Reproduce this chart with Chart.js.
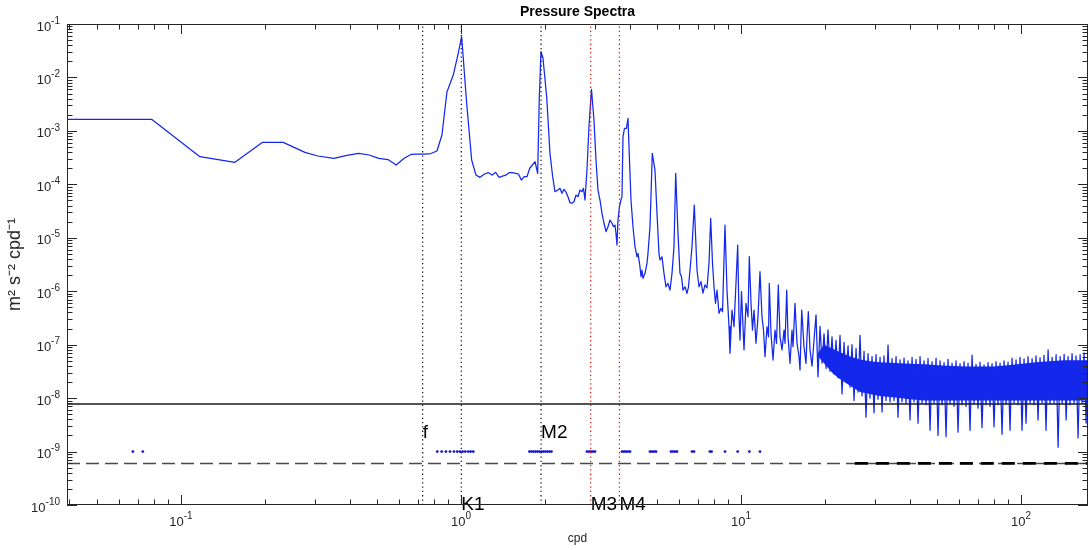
<!DOCTYPE html>
<html><head><meta charset="utf-8">
<script src="https://cdn.jsdelivr.net/npm/chart.js@4"></script>
<style>html,body{margin:0;padding:0;background:#fff}#wrap{width:1089px;height:550px}</style>
</head><body><div id="wrap"><canvas id="c" width="1089" height="550"></canvas></div>
<script>
// ---------- data ----------
const xRange = [0.0392, 173.4];
const yRange = [1e-10, 1e-1];
const xTickValues = [0.1, 1, 10, 100];
const xTickExps = ['-1', '0', '1', '2'];
const yTickValues = [1e-10, 1e-9, 1e-8, 1e-7, 1e-6, 1e-5, 1e-4, 1e-3, 1e-2, 1e-1];
const yTickExps = ['-10', '-9', '-8', '-7', '-6', '-5', '-4', '-3', '-2', '-1'];
const tickBase = '10';

const mainFreq = [0.0392,0.0786,0.1169,0.1559,0.1957,0.2319,0.2773,0.3085,0.3518,0.3917,0.4309,0.4700,0.5090,0.5486,0.5872,0.6268,0.6655,0.7050,0.7436,0.7813,0.8209,0.8553,0.8913,0.9387,0.9780,1.0058,1.0480,1.0920,1.1313,1.1692,1.2140,1.2526,1.2924,1.3302,1.3690,1.4078,1.4477,1.4863,1.5259,1.5653,1.6045,1.6432,1.6829,1.7206,1.7607,1.7989,1.8392,1.8790,1.9038,1.9307,1.9627,2.0234,2.0790,2.1257,2.1663,2.2204,2.2572,2.2946,2.3327,2.3714,2.4108,2.4508,2.4915,2.5329,2.5750,2.6177,2.6607,2.7049,2.7384,2.7724,2.8184,2.8652,2.9248,2.9854,3.0350,3.0853,3.1366,3.1886,3.2416,3.2954,3.3497,3.4054,3.4619,3.5049,3.5481,3.5774,3.6069,3.6367,3.6818,3.7276,3.7584,3.7894,3.8365,3.9002,3.9486,3.9976,4.0472,4.1144,4.1827,4.2521,4.2872,4.3584,4.3943,4.4306,4.4668,4.5409,4.6163,4.6544,4.7315,4.7786,4.8219,4.9302,5.0119,5.0950,5.1370,5.2223,5.3088,5.3969,5.4864,5.5775,5.6700,5.7640,5.8453,5.9566,6.0555,6.1306,6.2067,6.3096,6.4143,6.4938,6.5744,6.6834,6.8110,6.9641,7.0795,7.1969,7.3163,7.4376,7.5609,7.6863,7.7946,7.9108,8.0091,8.1084,8.2091,8.3452,8.4834,8.5888,8.7672,8.9125,9.0603,9.1350,9.2864,9.4406,9.7325,9.8369,9.9181,10.041,10.166,10.250,10.420,10.593,10.707,10.858,10.992,11.129,11.311,11.500,11.690,11.885,12.033,12.182,12.384,12.537,12.620,12.798,13.011,13.227,13.391,13.590,13.782,14.011,14.243,14.361,14.563,14.720,14.962,15.211,15.336,15.590,15.849,16.112,16.245,16.474,16.788,17.067,17.208,17.393,17.638,17.932,18.229,18.530,18.836];
const mainPow = [1.65e-3,1.65e-3,3.29e-4,2.58e-4,6.11e-4,6.11e-4,3.97e-4,3.39e-4,3.07e-4,3.49e-4,3.81e-4,3.54e-4,3.07e-4,2.91e-4,2.30e-4,3.07e-4,3.65e-4,3.69e-4,3.69e-4,3.77e-4,4.20e-4,8.37e-4,5.34e-3,1.11e-2,2.83e-2,5.78e-2,3.32e-3,2.85e-4,1.49e-4,1.35e-4,1.56e-4,1.65e-4,1.49e-4,1.68e-4,1.35e-4,1.43e-4,1.49e-4,1.65e-4,1.65e-4,1.61e-4,1.56e-4,1.20e-4,1.39e-4,1.39e-4,2.0e-4,2.30e-4,2.65e-4,1.61e-4,3.78e-3,3.03e-2,2.31e-2,4.36e-3,3.81e-4,1.39e-4,7.28e-5,7.83e-5,8.42e-5,6.79e-5,8.07e-5,7.18e-5,5.87e-5,4.53e-5,4.41e-5,4.73e-5,6.31e-5,5.87e-5,7.83e-5,7.28e-5,8.42e-5,5.09e-5,1.85e-4,1.20e-3,6.0e-3,1.60e-3,2.85e-4,7.83e-5,5.09e-5,2.87e-5,1.87e-5,1.30e-5,1.61e-5,2.15e-5,1.87e-5,1.61e-5,1.73e-5,1.21e-5,7.32e-6,2.15e-5,3.81e-5,5.09e-5,5.87e-5,7.78e-4,1.12e-3,1.12e-3,1.72e-3,2.85e-4,5.09e-5,1.61e-5,6.80e-6,4.42e-6,5.12e-6,2.87e-6,1.87e-6,2.49e-6,1.74e-6,2.16e-6,3.33e-6,5.12e-6,1.61e-5,7.83e-5,3.81e-4,1.85e-4,2.87e-5,5.12e-6,3.84e-6,4.42e-6,2.16e-6,1.21e-6,1.40e-6,1.05e-6,2.16e-6,6.80e-6,1.61e-4,1.21e-5,2.16e-6,1.87e-6,1.05e-6,1.21e-6,9.14e-7,1.21e-6,2.49e-6,6.80e-6,4.10e-5,2.49e-6,1.21e-6,1.51e-6,9.25e-7,1.31e-6,1.15e-6,3.33e-6,2.31e-5,3.33e-6,1.21e-6,5.94e-7,1.05e-6,3.86e-7,4.79e-7,4.13e-7,1.73e-5,1.05e-6,2.17e-7,6.88e-8,4.45e-7,2.17e-7,7.32e-6,3.33e-7,1.22e-7,9.79e-7,2.17e-7,7.96e-8,5.94e-7,3.33e-7,4.42e-6,5.94e-7,1.88e-7,4.45e-7,1.06e-7,3.33e-7,2.32e-6,3.33e-7,1.88e-7,5.95e-8,2.17e-7,1.41e-7,1.40e-6,1.63e-7,5.16e-8,1.88e-7,1.06e-7,1.31e-6,1.41e-7,7.96e-8,1.88e-7,1.06e-7,1.05e-6,1.41e-7,4.48e-8,1.88e-7,9.15e-8,5.94e-7,1.06e-7,5.95e-8,3.35e-8,4.45e-7,9.15e-8,4.48e-8,1.41e-7,4.13e-7,7.96e-8,3.98e-8,1.22e-7,3.62e-7,2.51e-8];

const noiseFreq = [19.15,19.47,19.79,20.12,20.45,20.79,21.13,21.49,21.84,22.21,22.57,22.95,23.33,23.71,24.11,24.51,24.91,25.33,25.75,26.17,26.61,27.05,27.50,27.95,28.42,28.89,29.37,29.85,30.35,30.85,31.37,31.89,32.41,32.95,33.50,34.05,34.62,35.19,35.78,36.37,36.97,37.58,38.21,38.84,39.49,40.14,40.81,41.48,42.17,42.87,43.58,44.30,45.04,45.78,46.54,47.32,48.10,48.90,49.71,50.53,51.37,52.22,53.09,53.97,54.86,55.77,56.70,57.64,58.59,59.57,60.55,61.56,62.58,63.61,64.67,65.74,66.83,67.94,69.06,70.21,71.37,72.55,73.76,74.99,76.23,77.49,78.78,80.08,81.41,82.76,84.14,85.53,86.95,88.39,89.85,91.34,92.86,94.41,95.97,97.56,99.18,100.8,102.5,104.2,105.9,107.7,109.5,111.3,113.1,115.0,116.9,118.9,120.8,122.8,124.9,126.9,129.1,131.2,133.4,135.6,137.9,140.2,142.5,144.9,147.2,149.6,152.1,154.6,157.2,159.8,162.5,165.1,167.9,170.7,173.5];
const noisePow = [2.2e-7,4.5e-8,1.6e-7,3.6e-8,1.9e-7,3.2e-8,1.4e-7,2.8e-8,1.2e-7,2.4e-8,
1.5e-7,1.2e-8,1.1e-7,2.0e-8,9.5e-8,1.6e-8,1.0e-7,9.0e-9,8.5e-8,1.3e-8,
1.5e-7,1.1e-8,7.5e-8,4.4e-9,6.8e-8,1.0e-8,6.0e-8,5.3e-9,6.5e-8,9.5e-9,
5.8e-8,5.5e-9,6.2e-8,9.0e-9,9.8e-8,8.5e-9,5.5e-8,9.0e-9,6.0e-8,4.4e-9,
5.2e-8,8.5e-9,5.6e-8,8.0e-9,5.0e-8,3.9e-9,5.8e-8,8.5e-9,5.3e-8,3.4e-9,
6.0e-8,8.0e-9,5.0e-8,7.5e-9,5.5e-8,2.5e-9,4.8e-8,8.0e-9,5.6e-8,2.0e-9,
5.0e-8,7.5e-9,4.6e-8,1.9e-9,5.3e-8,7.8e-9,4.5e-8,7.0e-9,5.0e-8,2.3e-9,
4.4e-8,7.5e-9,4.8e-8,7.0e-9,4.5e-8,2.5e-9,6.4e-8,7.8e-9,4.3e-8,6.5e-9,
4.7e-8,2.8e-9,4.2e-8,7.5e-9,4.6e-8,7.0e-9,4.4e-8,2.9e-9,4.8e-8,7.5e-9,
4.5e-8,2.1e-9,5.0e-8,7.8e-9,4.7e-8,2.5e-9,5.6e-8,8.0e-9,5.2e-8,7.5e-9,
5.8e-8,2.5e-9,5.4e-8,3.4e-9,6.0e-8,8.0e-9,5.5e-8,7.5e-9,6.2e-8,3.9e-9,
5.7e-8,8.0e-9,6.3e-8,2.5e-9,8.0e-8,7.8e-9,5.8e-8,8.0e-9,6.5e-8,1.2e-9,
6.0e-8,8.0e-9,6.6e-8,3.9e-9,6.0e-8,7.5e-9,6.8e-8,8.0e-9,6.2e-8,1.8e-9,
6.5e-8,8.0e-9,7.0e-8,3.4e-9,6.3e-8];

// dense core of the high-frequency noise band
const bandFreq = [18.84,19.79,21.13,22.21,24.51,26.61,28.89,31.37,34.05,36.97,40.14,45.04,50.53,56.70,63.61,71.37,80.08,89.85,100.8,113.1,126.9,142.5,159.8,173.5];
const bandHigh = [7.0e-8,1.0e-7,8.5e-8,7.5e-8,6.0e-8,5.3e-8,4.9e-8,4.7e-8,4.6e-8,4.5e-8,4.4e-8,4.3e-8,4.1e-8,4.0e-8,3.9e-8,3.9e-8,3.9e-8,4.1e-8,4.4e-8,4.7e-8,4.9e-8,5.1e-8,5.1e-8,5.1e-8];
const bandLow = [6.0e-8,4.5e-8,3.0e-8,2.4e-8,1.7e-8,1.3e-8,1.2e-8,1.1e-8,1.05e-8,1.0e-8,9.5e-9,9e-9,9e-9,9e-9,9e-9,9e-9,9e-9,9e-9,9e-9,9e-9,9e-9,9e-9,9e-9,9e-9];

// significant-frequency markers
const dotFreq = [0.0674,0.0731,0.8231,0.8534,0.8839,0.9136,0.9441,0.9700,0.9918,1.0141,1.0360,1.0619,1.0830,1.1064,1.7564,1.7856,1.8152,1.8453,1.8759,1.9070,1.9386,1.9708,2.0034,2.0366,2.0704,2.1047,2.8184,2.8652,2.9128,2.9612,3.0103,3.7584,3.8207,3.8841,3.9486,4.0142,4.7315,4.8099,4.8898,4.9710,5.6236,5.7168,5.8116,5.9080,6.6834,6.7942,7.74,7.85,8.77,9.73,10.71,11.69];
const dotLevel = 1e-9;

// reference levels
const solidLevel = 7.75e-9;
const dashLevel = 6.0e-10;
const dashBoldStart = 25.5;

// frequency markers
const lineNames = ['f', 'K1', 'M2', 'M3', 'M4'];
const lineFreqs = [0.730, 1.0027, 1.9323, 2.906, 3.68];
const lineIsRed = [false, false, false, true, true];
const labelLevels = [2.2e-9, 1e-10, 2.2e-9, 1e-10, 1e-10];

// ---------- chart ----------
const FONT = '"Liberation Sans", Arial, Helvetica, sans-serif';
Chart.defaults.font.family = FONT;
const BLUE = 'rgb(20,40,235)';

function pts(xs, ys) { return xs.map((x, i) => ({x, y: ys[i]})); }

const datasets = [];
datasets.push({ data: [{x: xRange[0], y: solidLevel}, {x: xRange[1], y: solidLevel}], borderColor: '#1a1a1a', borderWidth: 1.5 });
datasets.push({ data: [{x: dashBoldStart, y: dashLevel}, {x: xRange[1], y: dashLevel}], borderColor: '#000', borderWidth: 2.8, borderDash: [13, 8] });
datasets.push({ data: [{x: xRange[0], y: dashLevel}, {x: xRange[1], y: dashLevel}], borderColor: '#4a4a4a', borderWidth: 1.5, borderDash: [13, 6] });
lineFreqs.forEach((f, i) => {
  datasets.push({ data: [{x: f, y: yRange[0]}, {x: f, y: yRange[1]}], borderColor: lineIsRed[i] ? '#e01010' : '#111', borderWidth: 1.2, borderDash: [1.3, 3] });
});
datasets.push({ data: dotFreq.map(f => ({x: f, y: dotLevel})), showLine: false, pointRadius: 1.4, pointBackgroundColor: '#1515d0', pointBorderWidth: 0 });
datasets.push({ data: pts(mainFreq.concat(noiseFreq), mainPow.concat(noisePow)), borderColor: BLUE, borderWidth: 1.25, borderJoinStyle: 'round' });
datasets.push({ data: pts(bandFreq, bandHigh), borderWidth: 0, borderColor: 'rgba(0,0,0,0)', backgroundColor: BLUE, fill: '+1' });
datasets.push({ data: pts(bandFreq, bandLow), borderWidth: 0, borderColor: 'rgba(0,0,0,0)', fill: false });

function drawPow(ctx, exp, px, py, align) {
  ctx.font = '13px ' + FONT;
  const wb = ctx.measureText(tickBase).width;
  ctx.font = '10px ' + FONT;
  const we = ctx.measureText(exp).width;
  let x0;
  if (align === 'right') x0 = px - wb - we; else x0 = px - (wb + we) / 2;
  ctx.font = '13px ' + FONT;
  ctx.fillText(tickBase, x0, py);
  ctx.font = '10px ' + FONT;
  ctx.fillText(exp, x0 + wb, py - 6.8);
}

const frame = {
  id: 'frame',
  afterDatasetsDraw(chart) {
    const {ctx, scales: {x, y}} = chart;
    ctx.save();
    ctx.font = '19px ' + FONT;
    ctx.fillStyle = '#000';
    ctx.textAlign = 'left';
    ctx.textBaseline = 'middle';
    lineNames.forEach((n, i) => ctx.fillText(n, x.getPixelForValue(lineFreqs[i]), y.getPixelForValue(labelLevels[i])));
    ctx.restore();
  },
  afterDraw(chart) {
    const {ctx, chartArea: a, scales: {x, y}} = chart;
    ctx.save();
    ctx.fillStyle = '#262626';
    ctx.textAlign = 'left';
    ctx.textBaseline = 'alphabetic';
    xTickValues.forEach((v, i) => drawPow(ctx, xTickExps[i], x.getPixelForValue(v), a.bottom + 21, 'center'));
    yTickValues.forEach((v, i) => drawPow(ctx, yTickExps[i], a.left - 7, y.getPixelForValue(v) + 6.5, 'right'));
    ctx.strokeStyle = '#262626';
    ctx.lineWidth = 1;
    ctx.strokeRect(a.left + 0.5, a.top + 0.5, a.right - a.left - 1, a.bottom - a.top - 1);
    ctx.beginPath();
    for (let e = -2; e <= 2; e++) for (let m = 1; m <= 9; m++) {
      const v = m * Math.pow(10, e);
      if (v < x.min || v > x.max) continue;
      const p = Math.round(x.getPixelForValue(v)) + 0.5;
      const len = m === 1 ? 10 : 5.5;
      ctx.moveTo(p, a.bottom); ctx.lineTo(p, a.bottom - len);
      ctx.moveTo(p, a.top); ctx.lineTo(p, a.top + len);
    }
    for (let e = -10; e <= -1; e++) for (let m = 1; m <= 9; m++) {
      const v = m * Math.pow(10, e);
      if (v < y.min * 0.999 || v > y.max * 1.001) continue;
      const p = Math.round(y.getPixelForValue(v)) + 0.5;
      const len = m === 1 ? 10 : 5.5;
      ctx.moveTo(a.left, p); ctx.lineTo(a.left + len, p);
      ctx.moveTo(a.right, p); ctx.lineTo(a.right - len, p);
    }
    ctx.stroke();
    ctx.restore();
  }
};

new Chart(document.getElementById('c'), {
  type: 'line',
  data: { datasets },
  options: {
    responsive: false,
    animation: false,
    devicePixelRatio: 1,
    layout: { autoPadding: false, padding: { left: 0, right: 1, top: 0, bottom: 0 } },
    elements: { point: { radius: 0 }, line: { tension: 0 } },
    plugins: {
      legend: { display: false },
      tooltip: { enabled: false },
      title: { display: true, fullSize: false, text: 'Pressure Spectra', color: '#000', font: { size: 14, weight: 'bold', family: FONT }, padding: { top: 4, bottom: 3.2 } }
    },
    scales: {
      x: {
        type: 'logarithmic', min: xRange[0], max: xRange[1], position: 'bottom',
        afterFit(s) { s.height = 45; },
        grid: { display: false }, border: { display: false },
        ticks: { display: false },
        title: { display: true, text: 'cpd', color: '#262626', font: { size: 12 }, padding: { top: 0, bottom: 4 } }
      },
      y: {
        type: 'logarithmic', min: yRange[0], max: yRange[1], position: 'left',
        afterFit(s) { s.width = 67; },
        grid: { display: false }, border: { display: false },
        ticks: { display: false },
        title: { display: true, text: 'm² s⁻² cpd⁻¹', color: '#262626', font: { size: 18 }, padding: { top: 4, bottom: 0 } }
      }
    }
  },
  plugins: [frame]
});
</script>
</body></html>
